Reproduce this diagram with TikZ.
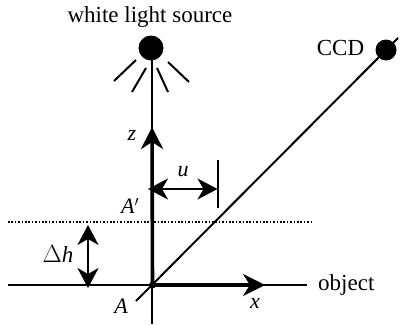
\documentclass[tikz,border=0pt]{standalone}
\usepackage{fontspec}
\setmainfont{Liberation Serif}
\usetikzlibrary{arrows.meta}
\begin{document}
\begin{tikzpicture}[x=1pt,y=-1pt,
  thin line/.style={line width=2pt},
  big arrow/.style={line width=2pt,{Stealth[length=20pt,width=21pt,inset=6pt]}-{Stealth[length=20pt,width=21pt,inset=6pt]}},
  head arrow/.style={line width=3.6pt,-{Stealth[length=22pt,width=22pt,inset=7pt]}},
  dot/.style={circle,fill=black,inner sep=0pt},
  lbl/.style={font=\fontsize{23}{26}\selectfont,inner sep=0pt},
  math lbl/.style={font=\fontsize{22}{26}\selectfont\itshape,inner sep=0pt}]
\useasboundingbox (0,0) rectangle (417,324);
\coordinate (o) at (152.5,285);
\coordinate (zb) at (152,324);
\coordinate (zt) at (152,60);
\coordinate (zh) at (152,127);
\coordinate (xl) at (8,285);
\coordinate (xr) at (307,285);
\coordinate (xh) at (265,285);
\coordinate (dl) at (8,222);
\coordinate (dr) at (313,222);
\coordinate (dg) at (136,301);
\coordinate (dge) at (398,38);
\node[dot,minimum size=25pt] (src) at (151,48) {};
\node[dot,minimum size=21pt] (ccd) at (386,50) {};
\node[lbl] (srclbl) at (150,17) {white light source};
\node[lbl] (ccdlbl) at (340.5,48) {CCD};
\node[lbl,anchor=west] (objlbl) at (318,285) {object};
\node[math lbl] (zlbl) at (132,135) {z};
\node[math lbl] (ulbl) at (183,172) {u};
\node[math lbl] (xlbl) at (255,303) {x};
\node[math lbl,anchor=west] (aplbl) at (121,206) {A$'$};
\node[math lbl] (albl) at (121,306) {A};
\node[lbl] (dhlbl) at (58,254) {$\Delta$\textit{h}};
\draw[thin line] (zb) -- (zt);
\draw[thin line] (xl) -- (xr);
\draw[thin line] (dg) -- (dge);
\draw[line width=1.3pt,dash pattern=on 1.6pt off 1.8pt] (dl) -- (dr);
\draw[head arrow] (o) -- (zh);
\draw[head arrow] (o) -- (xh);
\fill (o) circle (3.5pt);
\coordinate (r1a) at (136,60); \coordinate (r1b) at (114,81);
\coordinate (r2a) at (146,68); \coordinate (r2b) at (132,92);
\coordinate (r3a) at (157,68); \coordinate (r3b) at (168,92);
\coordinate (r4a) at (168,62); \coordinate (r4b) at (189,82);
\draw[thin line] (r1a) -- (r1b);
\draw[thin line] (r2a) -- (r2b);
\draw[thin line] (r3a) -- (r3b);
\draw[thin line] (r4a) -- (r4b);
\coordinate (tt) at (217.5,160); \coordinate (tb) at (217.5,208);
\draw[thin line] (tt) -- (tb);
\coordinate (ua) at (148,189); \coordinate (ub) at (217.5,189);
\draw[big arrow] (ua) -- (ub);
\coordinate (ha) at (88,225); \coordinate (hb) at (88,288);
\draw[big arrow] (ha) -- (hb);
\end{tikzpicture}
\end{document}
